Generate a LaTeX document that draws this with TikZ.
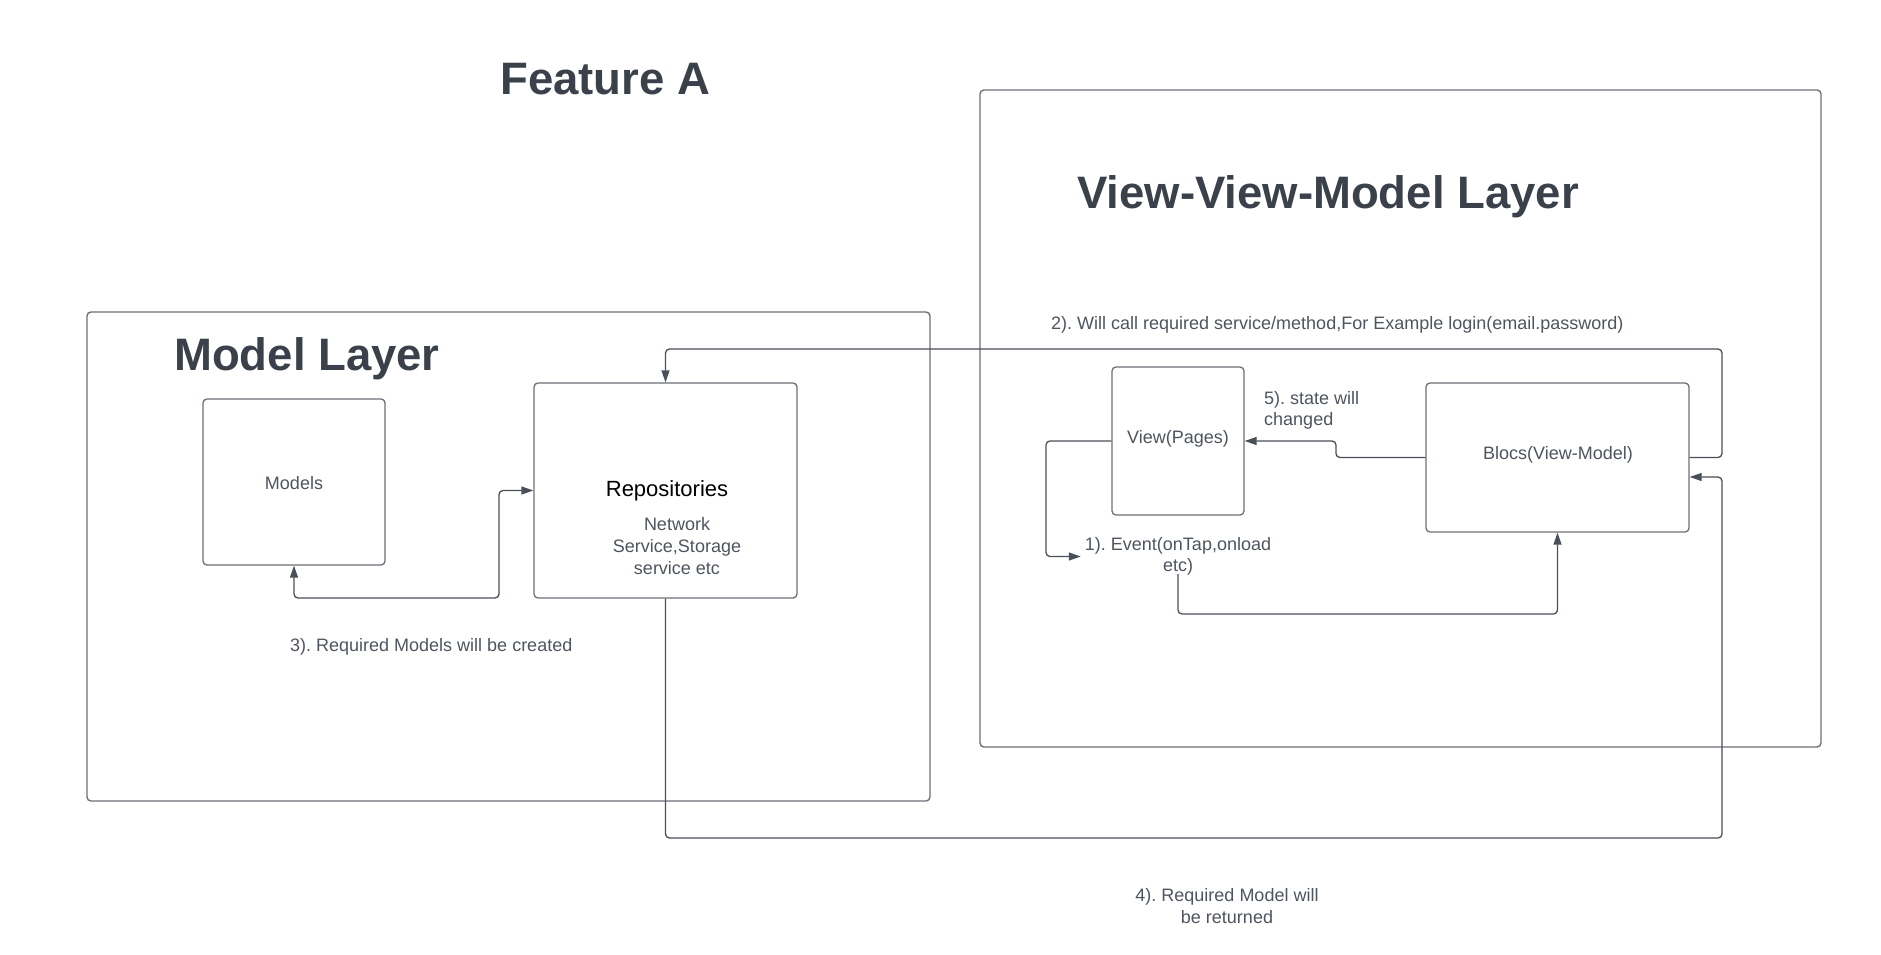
\documentclass[tikz,border=0pt]{standalone}
\usepackage{fontspec}
\setmainfont{Liberation Sans}
\usetikzlibrary{arrows.meta}
\definecolor{titlec}{HTML}{3A414A}
\definecolor{textc}{HTML}{4E555E}
\definecolor{linec}{HTML}{4A5059}
\definecolor{boxc}{HTML}{6A7077}
\frenchspacing
\begin{document}
\begin{tikzpicture}[x=1pt,y=-1pt,
  titletext/.style={anchor=base west,inner sep=0,text=titlec,font=\fontsize{45.5}{54}\selectfont\bfseries},
  lbl/.style={inner sep=0,text=textc,align=center,font=\fontsize{18}{21.6}\selectfont},
  frame/.style={draw=boxc,line width=1.4pt,rounded corners=4pt},
  box/.style={draw=boxc,line width=1.3pt,rounded corners=4pt,inner sep=0},
  conn/.style={draw=linec,line width=1.3pt,rounded corners=4pt},
  tip/.style={-{Triangle[length=12pt,width=8pt]}}]
\useasboundingbox (0,0) rectangle (1881,955);
% frames
\draw[frame] (87,312) rectangle (930,801);
\draw[frame] (980,90) rectangle (1821,747);
% titles
\node[titletext] (tA) at (500,95) {Feature A};
\node[titletext] (tM) at (174,370) {Model Layer};
\node[titletext] (tV) at (1077,208) {View-View-Model Layer};
% boxes
\node[box,minimum width=182pt,minimum height=166pt] (models) at (294,482) {};
\node[lbl] (modelst) at (294,483) {Models};
\node[box,minimum width=263pt,minimum height=215pt] (repo) at (665.5,490.5) {};
\node[inner sep=0,font=\fontsize{22}{26}\selectfont] (repot) at (667,491) {Repositories};
\node[lbl] (repos) at (677,546) {Network\\Service,Storage\\service etc};
\node[box,minimum width=132pt,minimum height=148pt] (view) at (1178,441) {};
\node[lbl] (viewt) at (1178,439) {View(Pages)};
\node[box,minimum width=263pt,minimum height=149pt] (blocs) at (1557.5,457.5) {};
\node[lbl] (blocst) at (1558,455) {Blocs(View-Model)};
% labels
\node[lbl] (ev) at (1178,556.5) {1). Event(onTap,onload\\etc)};
\node[lbl,anchor=west] (l2) at (1051,325) {2). Will call required service/method,For Example login(email.password)};
\node[lbl,anchor=west] (l3) at (290,647) {3). Required Models will be created};
\node[lbl] (l4) at (1227,906) {4). Required Model will\\be returned};
\node[lbl,align=left,anchor=west] (l5) at (1264,410.5) {5). state will\\changed};
% connectors
\draw[conn,tip] (view.west) -- (1046,441) -- (1046,556.5) -- ([xshift=-4pt]ev.west);
\draw[conn,tip] ([yshift=2pt]ev.south) -- (1178,614) -- (1557.5,614) -- (blocs.south);
\draw[conn,tip] (blocs.east) -- (1722,457.5) -- (1722,349) -- (665.5,349) -- (repo.north);
\draw[conn,{Triangle[length=12pt,width=8pt]}-{Triangle[length=12pt,width=8pt]}] (models.south) -- (294,598) -- (499,598) -- (499,490.5) -- (repo.west);
\draw[conn,tip] (repo.south) -- (665.5,838) -- (1722,838) -- (1722,477) -- (blocs.east |- 0,477);
\draw[conn,tip] (blocs.west) -- (1336,457.5) -- (1336,441) -- (view.east);
\end{tikzpicture}
\end{document}
